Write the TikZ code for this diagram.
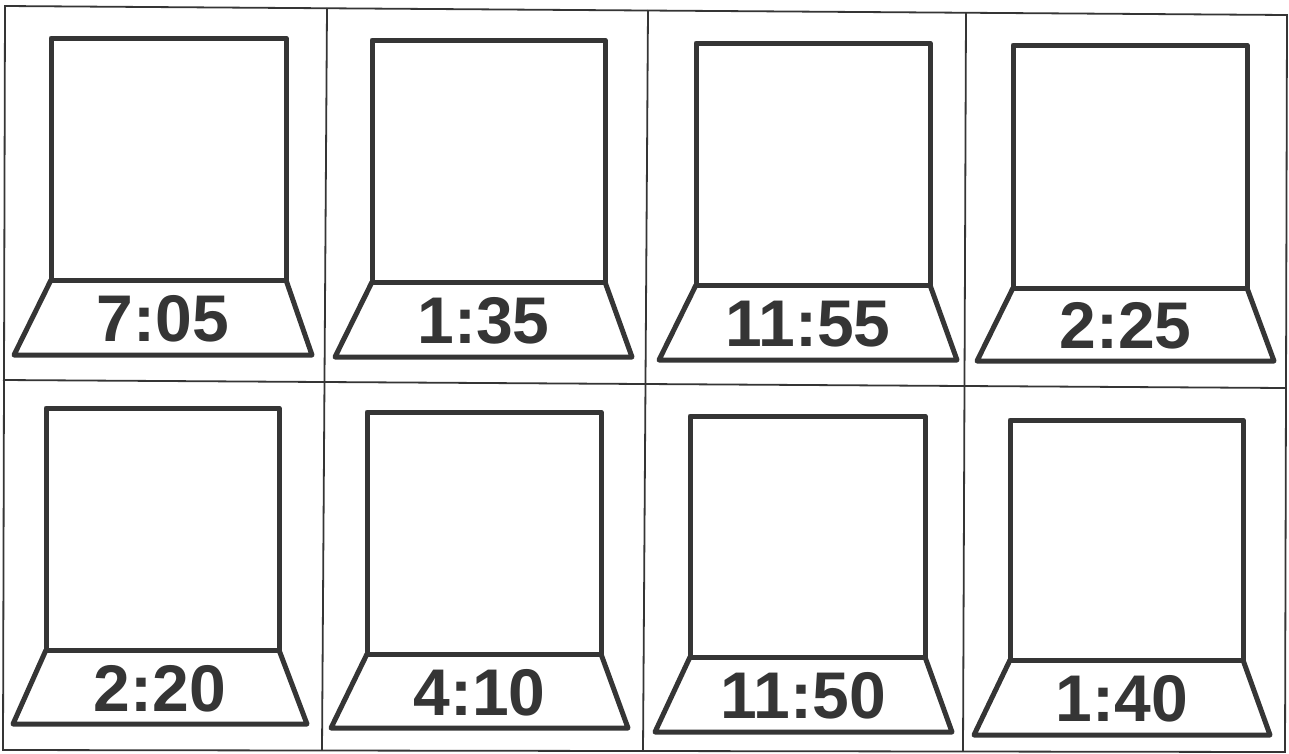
\documentclass[tikz,border=0pt]{standalone}
\usepackage{fontspec}
\setmainfont{Liberation Sans}
\definecolor{ink}{HTML}{353535}
\tikzset{
  gridline/.style={draw=ink, line width=1.8pt},
  monitor/.style={draw=ink, line width=5pt, line join=round},
  clock/.style={text=ink, font=\fontsize{66}{66}\selectfont\bfseries, anchor=base, inner sep=0pt}
}
% #1 name, #2 sx1, #3 sy1, #4 sx2, #5 sy2, #6 tx1, #7 tx2, #8 ty, #9 label
\newcommand{\monitorcell}[9]{%
  \draw[monitor] (#2,#5) -- (#2,#3) -- (#4,#3) -- (#4,#5) -- cycle;
  \draw[monitor] (#2,#5) -- (#6,#8) -- (#7,#8) -- (#4,#5);
  \node[clock] (#1) at ({(#6+#7)/2},{(#5+#8)/2+24}) {#9};
}
\begin{document}
\begin{tikzpicture}[x=1pt,y=-1pt]
\useasboundingbox (0,0) rectangle (1289,753);
\fill[white] (0,0) rectangle (1289,753);
% grid
\coordinate (tl) at (5,6);
\coordinate (tr) at (1287,15);
\coordinate (bl) at (3,750);
\coordinate (br) at (1285,752);
\coordinate (ml) at (3,380);
\coordinate (mr) at (1286,388);
\coordinate (v1t) at (327,8);
\coordinate (v1b) at (322,750);
\coordinate (v2t) at (648,10);
\coordinate (v2b) at (643,751);
\coordinate (v3t) at (966,12);
\coordinate (v3b) at (963,751);
\draw[gridline] (tl) -- (tr) -- (br) -- (bl) -- cycle;
\draw[gridline] (ml) -- (mr);
\draw[gridline] (v1t) -- (v1b);
\draw[gridline] (v2t) -- (v2b);
\draw[gridline] (v3t) -- (v3b);
% cells
\monitorcell{c1}{51}{38}{286}{280}{14}{312}{355}{7:05}
\monitorcell{c2}{372}{40}{605}{282}{335}{632}{357}{1:35}
\monitorcell{c3}{696}{43}{930}{285}{659}{957}{360}{11:55}
\monitorcell{c4}{1013}{45}{1247}{288}{977}{1274}{361}{2:25}
\monitorcell{c5}{46}{408}{279}{650}{13}{307}{724}{2:20}
\monitorcell{c6}{367}{412}{601}{654}{331}{628}{728}{4:10}
\monitorcell{c7}{690}{416}{925}{657}{655}{952}{732}{11:50}
\monitorcell{c8}{1010}{420}{1243}{660}{974}{1270}{735}{1:40}
\end{tikzpicture}
\end{document}
